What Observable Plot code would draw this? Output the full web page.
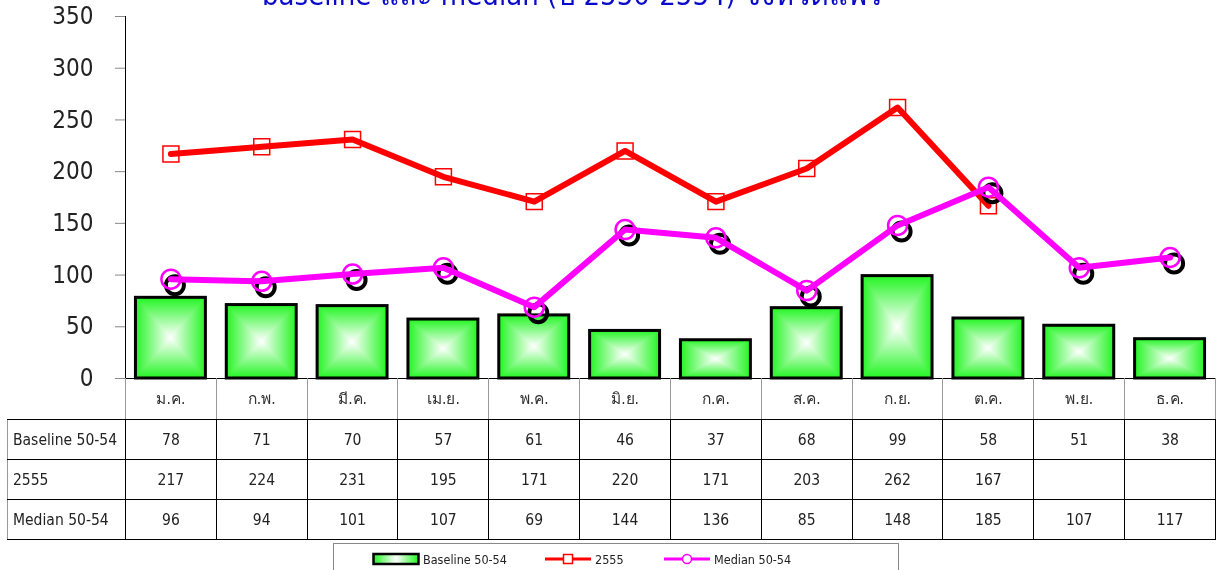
<!DOCTYPE html>
<html>
<head>
<meta charset="utf-8">
<script src="https://cdn.jsdelivr.net/npm/d3@7"></script>
<script src="https://cdn.jsdelivr.net/npm/@observablehq/plot@0.6"></script>
<style>
  html, body { margin: 0; padding: 0; background: #fff; }
  #wrap { position: relative; width: 1217px; height: 570px; overflow: hidden; font-family: "DejaVu Sans Condensed", "DejaVu Sans", sans-serif; font-stretch: condensed; }
  #title { position: absolute; left: 262px; top: -19px; font-size: 29px; line-height: 29px; color: #0a0acc; white-space: nowrap; }
  #chart { position: absolute; left: 0; top: 0; }
  #tbl { position: absolute; left: 7px; top: 378px; border-collapse: collapse; table-layout: fixed; font-size: 15.5px; color: #222; }
  #tbl td { padding: 0; text-align: center; border: 1px solid #000; overflow: hidden; white-space: nowrap; }
  #tbl tr.hdr td { border-top: none; border-left: 1px solid #999; border-right: 1px solid #999; height: 41px; color: #333; }
  #tbl tr.hdr td.corner { border: none; }
  #tbl tr.body td { height: 39px; }
  #tbl tr.body td.lab { text-align: left; padding-left: 5px; border-left: 1px solid #999; }
  #legend { position: absolute; left: 333px; top: 543px; width: 564px; height: 30px; border: 1px solid #888; font-size: 12.5px; color: #222; }
  .li { position: absolute; top: 7px; display: flex; align-items: center; height: 16px; }
  .li svg { display: block; }
</style>
</head>
<body>
<div id="wrap">
  <div id="title"></div>
  <div id="chart"></div>
  <table id="tbl"></table>
  <div id="legend"></div>
</div>
<script>
const titleText = "baseline และ median (ปี 2550-2554) จังหวัดแพร่";
const months = ["ม.ค.","ก.พ.","มี.ค.","เม.ย.","พ.ค.","มิ.ย.","ก.ค.","ส.ค.","ก.ย.","ต.ค.","พ.ย.","ธ.ค."];
const baseline = [78, 71, 70, 57, 61, 46, 37, 68, 99, 58, 51, 38];
const y2555 = [217, 224, 231, 195, 171, 220, 171, 203, 262, 167, null, null];
const median = [96, 94, 101, 107, 69, 144, 136, 85, 148, 185, 107, 117];
const yTicks = [0, 50, 100, 150, 200, 250, 300, 350];
const seriesNames = ["Baseline 50-54", "2555", "Median 50-54"];

const GREEN = "#22f522";
const RED = "#ff0000";
const MAGENTA = "#ff00ff";

document.getElementById("title").textContent = titleText;

const rows = months.map((m, i) => ({month: m, baseline: baseline[i], y2555: y2555[i], median: median[i]}));
const redRows = rows.filter(d => d.y2555 != null);

function defs() {
  const ns = "http://www.w3.org/2000/svg";
  const d = document.createElementNS(ns, "defs");
  d.innerHTML =
    `<linearGradient id="gH" x1="0" x2="1" y1="0" y2="0">
       <stop offset="0" stop-color="${GREEN}"/><stop offset="0.5" stop-color="#ffffff"/><stop offset="1" stop-color="${GREEN}"/>
     </linearGradient>
     <linearGradient id="gV" x1="0" x2="0" y1="0" y2="1">
       <stop offset="0" stop-color="${GREEN}"/><stop offset="0.5" stop-color="#ffffff"/><stop offset="1" stop-color="${GREEN}"/>
     </linearGradient>`;
  return d;
}

function leftAxisLine(index, scales, values, dims) {
  const ns = "http://www.w3.org/2000/svg";
  const l = document.createElementNS(ns, "line");
  l.setAttribute("x1", dims.marginLeft + 0.5);
  l.setAttribute("x2", dims.marginLeft + 0.5);
  l.setAttribute("y1", dims.marginTop);
  l.setAttribute("y2", dims.height - dims.marginBottom);
  l.setAttribute("stroke", "#000");
  return l;
}

const plot = Plot.plot({
  width: 1217,
  height: 400,
  marginTop: 16,
  marginBottom: 22,
  marginLeft: 125,
  marginRight: 2,
  style: {fontFamily: "'DejaVu Sans Condensed', 'DejaVu Sans', sans-serif", background: "transparent"},
  x: {domain: months, paddingInner: 0.23, paddingOuter: 0.115, round: false, axis: null},
  y: {domain: [0, 350], axis: null},
  marks: [
    defs,
    Plot.barY(rows, {x: "month", y: "baseline", fill: "url(#gH)"}),
    Plot.barY(rows, {x: "month", y: "baseline", fill: "url(#gV)"}),
    Plot.barY(rows, {x: "month", y: "baseline", fill: "none", stroke: "#000", strokeWidth: 3}),
    Plot.axisY({ticks: yTicks, tickSize: 10, tickPadding: 22, fontSize: 24, label: null, stroke: "#888", fill: "#222"}),
    Plot.ruleY([0], {stroke: "#000"}),
    leftAxisLine,
    Plot.line(redRows, {x: "month", y: "y2555", stroke: RED, strokeWidth: 6}),
    Plot.dot(redRows, {x: "month", y: "y2555", symbol: "square", r: 9, stroke: RED, strokeWidth: 1.5, fill: "none"}),
    Plot.dot(rows, {x: "month", y: "median", r: 9, stroke: "#000", strokeWidth: 4, dx: 4, dy: 6}),
    Plot.line(rows, {x: "month", y: "median", stroke: MAGENTA, strokeWidth: 6}),
    Plot.dot(rows, {x: "month", y: "median", r: 9.5, stroke: MAGENTA, strokeWidth: 2.5, fill: "none"})
  ]
});
document.getElementById("chart").appendChild(plot);

// darken blend the vertical-gradient layer to produce a rectangular (box) gradient
const barGroups = plot.querySelectorAll('g[aria-label="bar"]');
if (barGroups[1]) barGroups[1].style.mixBlendMode = "darken";

// data table aligned with x scale
const xs = plot.scale("x");
const step = xs.step;
const tbl = document.getElementById("tbl");
const colgroup = document.createElement("colgroup");
const c0 = document.createElement("col"); c0.style.width = "118px"; colgroup.appendChild(c0);
months.forEach(() => { const c = document.createElement("col"); c.style.width = step + "px"; colgroup.appendChild(c); });
tbl.appendChild(colgroup);
tbl.style.width = (118 + step * months.length) + "px";

const hdr = document.createElement("tr"); hdr.className = "hdr";
const corner = document.createElement("td"); corner.className = "corner"; hdr.appendChild(corner);
months.forEach(m => { const td = document.createElement("td"); td.textContent = m; hdr.appendChild(td); });
tbl.appendChild(hdr);

[[seriesNames[0], baseline], [seriesNames[1], y2555], [seriesNames[2], median]].forEach(([name, vals]) => {
  const tr = document.createElement("tr"); tr.className = "body";
  const lab = document.createElement("td"); lab.className = "lab"; lab.textContent = name; tr.appendChild(lab);
  vals.forEach(v => { const td = document.createElement("td"); td.textContent = v == null ? "" : v; tr.appendChild(td); });
  tbl.appendChild(tr);
});

// legend
const legend = document.getElementById("legend");
const ns = "http://www.w3.org/2000/svg";
function item(left, svgInner, w, label) {
  const div = document.createElement("div"); div.className = "li"; div.style.left = left + "px";
  const s = document.createElementNS(ns, "svg"); s.setAttribute("width", w); s.setAttribute("height", 16);
  s.innerHTML = svgInner;
  div.appendChild(s);
  const t = document.createElement("span"); t.textContent = label; t.style.marginLeft = "3px";
  div.appendChild(t);
  legend.appendChild(div);
}
item(38, `<defs><linearGradient id="lgH" x1="0" x2="1"><stop offset="0" stop-color="${GREEN}"/><stop offset="0.5" stop-color="#fff"/><stop offset="1" stop-color="${GREEN}"/></linearGradient></defs>
  <rect x="1.5" y="3" width="45" height="10" fill="url(#lgH)" stroke="#000" stroke-width="2.5"/>`, 48, seriesNames[0]);
item(210, `<line x1="1" x2="47" y1="8" y2="8" stroke="${RED}" stroke-width="3"/><rect x="19.5" y="3.5" width="9" height="9" fill="#fff" stroke="${RED}" stroke-width="1.5"/>`, 48, seriesNames[1]);
item(329, `<line x1="1" x2="47" y1="8" y2="8" stroke="${MAGENTA}" stroke-width="3"/><circle cx="24" cy="8" r="4.5" fill="#fff" stroke="${MAGENTA}" stroke-width="1.5"/>`, 48, seriesNames[2]);
</script>
</body>
</html>
